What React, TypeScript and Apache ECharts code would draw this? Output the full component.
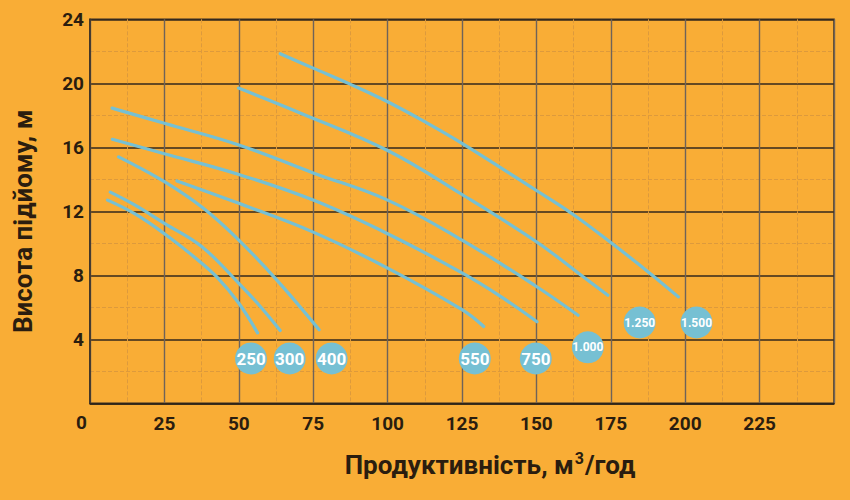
import { useRef, useEffect } from 'react'
import * as echarts from 'echarts'

// pump curves: [flow m3/h, head m]
const curve250 = [[5.9, 12.7], [15, 11.85], [25, 10.6], [35, 9.15], [42.6, 7.9], [50, 6.25], [56.3, 4.4]]
const curve300 = [[6.8, 13.2], [15, 12.4], [25, 11.25], [37.5, 9.8], [50, 7.5], [57, 6.1], [63.9, 4.55]]
const curve400 = [[9.6, 15.4], [25, 13.85], [38, 12.2], [50, 10.2], [62.8, 7.7], [77, 4.6]]
const curve550 = [[29.2, 13.9], [50, 12.5], [75, 10.7], [100, 8.45], [125, 5.85], [132.3, 4.8]]
const curve750 = [[7.5, 16.5], [25, 15.6], [50, 14.3], [75, 12.7], [100, 10.6], [125, 8.15], [137.8, 6.7], [150.2, 5.1]]
const curve1000 = [[7.4, 18.45], [25, 17.5], [50, 16.15], [75, 14.4], [100, 12.7], [125, 10.2], [150, 7.3], [164, 5.5]]
const curve1250 = [[49.9, 19.7], [70.6, 18.15], [100, 15.8], [125, 13.05], [150, 10.1], [164.7, 8.05], [174, 6.75]]
const curve1500 = [[63.9, 21.85], [75, 20.95], [87.4, 19.95], [100, 18.85], [112.5, 17.6], [125, 16.25], [150, 13.3], [162, 11.85], [175, 10.05], [188, 8.15], [197.7, 6.65]]

const curves = [curve250, curve300, curve400, curve550, curve750, curve1000, curve1250, curve1500]

// model badges
const badgeNames = ['250', '300', '400', '550', '750', '1.000', '1.250', '1.500']
const badgeX = [54.1, 67.1, 81.2, 129.3, 149.8, 167.3, 184.7, 203.8]
const badgeY = [2.8, 2.8, 2.8, 2.8, 2.8, 3.5, 5.05, 5.05]

const BLUE = '#76c0d3'
const TEXT = '#2a1d0f'
const FONT = 'Roboto'

export default function App() {
  const chartRef = useRef<HTMLDivElement>(null)

  useEffect(() => {
    if (!chartRef.current) return
    const chart = echarts.init(chartRef.current, null, { renderer: 'svg' })

    const lineSeries = curves.map((c, i) => ({
      name: badgeNames[i],
      type: 'line',
      data: c,
      smooth: 0.4,
      showSymbol: false,
      silent: true,
      lineStyle: { color: BLUE, width: 3.2, cap: 'round' },
      z: 3,
    }))

    const option = {
      animation: false,
      backgroundColor: '#f9ad36',
      textStyle: { fontFamily: FONT },
      grid: {
        left: 90,
        right: 16,
        top: 19.3,
        bottom: 96.7,
        show: true,
        borderColor: '#3a2f24',
        borderWidth: 1.5,
        backgroundColor: 'transparent',
      },
      xAxis: {
        type: 'value',
        min: 0,
        max: 250,
        interval: 25,
        name: '{a|Продуктивність, м}{s|3}{a|/год}',
        nameLocation: 'middle',
        nameGap: 46,
        nameTextStyle: {
          padding: [0, 0, 0, 56],
          rich: {
            a: { fontFamily: FONT, fontWeight: 'bold', fontSize: 26, color: TEXT, lineHeight: 32 },
            s: { fontFamily: FONT, fontWeight: 'bold', fontSize: 16, color: TEXT, padding: [0, 1, 14, 1], lineHeight: 32 },
          },
        },
        axisLine: { show: true, lineStyle: { color: '#2e2418', width: 1.5 } },
        axisTick: { show: false },
        axisLabel: {
          margin: 11,
          fontFamily: FONT,
          fontWeight: 'bold',
          fontSize: 19,
          color: TEXT,
          formatter: (v: number) => (v === 0 || v === 250 ? '' : String(v)),
        },
        splitLine: { show: true, lineStyle: { color: '#6f6359', width: 1.4 } },
        minorTick: { show: false, splitNumber: 2 },
        minorSplitLine: { show: true, lineStyle: { color: '#dd9a3c', width: 1, type: 'dashed' } },
      },
      yAxis: {
        type: 'value',
        min: 0,
        max: 24,
        interval: 4,
        name: 'Висота підйому, м',
        nameLocation: 'middle',
        nameRotate: 90,
        nameGap: 54,
        nameTextStyle: { fontFamily: FONT, fontWeight: 'bold', fontSize: 26, color: TEXT, padding: [0, 20, 0, 0] },
        axisLine: { show: true, lineStyle: { color: '#3a2f24', width: 1.5 } },
        axisTick: { show: false },
        axisLabel: {
          margin: 6,
          fontFamily: FONT,
          fontWeight: 'bold',
          fontSize: 19,
          color: TEXT,
          formatter: (v: number) => (v === 0 ? '' : String(v)),
        },
        splitLine: { show: true, lineStyle: { color: '#33291d', width: 1.5 } },
        minorTick: { show: false, splitNumber: 2 },
        minorSplitLine: { show: true, lineStyle: { color: '#dd9a3c', width: 1, type: 'dashed' } },
      },
      graphic: [
        {
          type: 'text',
          left: 76,
          top: 413,
          style: { text: '0', fontFamily: FONT, fontWeight: 'bold', fontSize: 19, fill: TEXT },
        },
      ],
      series: [
        ...lineSeries,
        {
          type: 'scatter',
          symbol: 'circle',
          symbolSize: 32,
          silent: true,
          z: 5,
          itemStyle: { color: BLUE, opacity: 1 },
          label: {
            show: true,
            position: 'inside',
            formatter: (p: any) => p.name,
            color: '#ffffff',
            fontFamily: FONT,
            fontWeight: 'bold',
            fontSize: 17,
          },
          data: badgeNames.map((n, i) => ({
            name: n,
            value: [badgeX[i], badgeY[i]],
            label: n.length > 3 ? { fontSize: 12 } : undefined,
          })),
        },
      ],
    }

    chart.setOption(option as any)
    return () => chart.dispose()
  }, [])

  return <div ref={chartRef} style={{ position: 'fixed', left: 0, top: 0, width: 850, height: 500 }} />
}
